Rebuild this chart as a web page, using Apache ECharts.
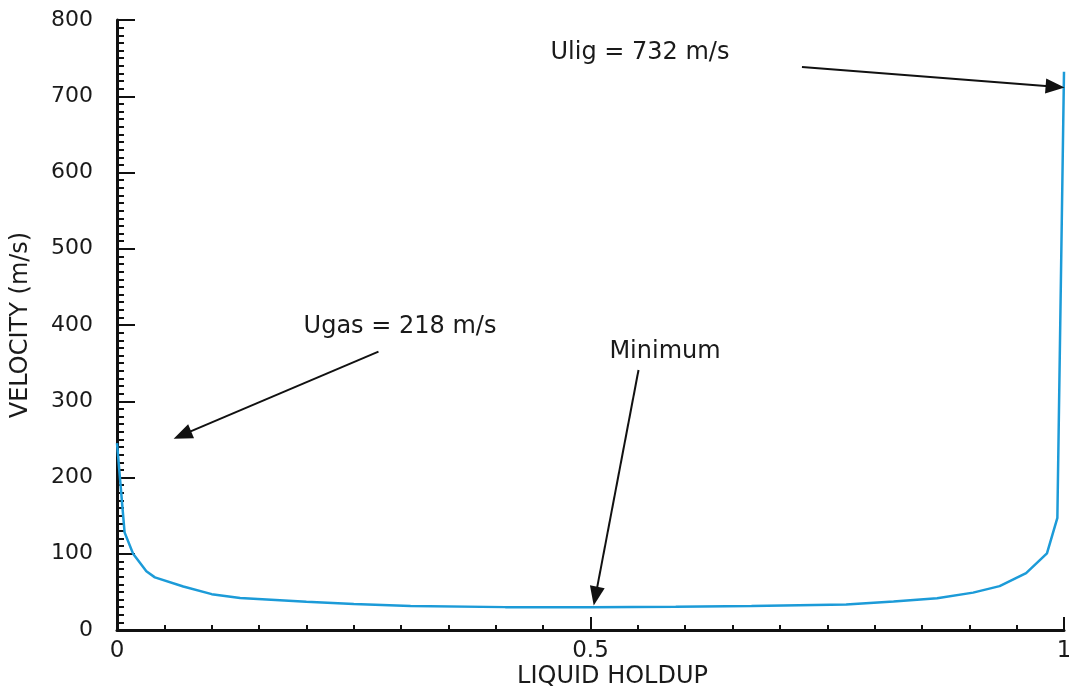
<!DOCTYPE html>
<html>
<head>
<meta charset="utf-8">
<script src="https://cdn.jsdelivr.net/npm/echarts@6/dist/echarts.min.js"></script>
<style>
html,body{margin:0;padding:0;background:#fff;}
#chart{width:1069px;height:686px;}
</style>
</head>
<body>
<div id="chart"></div>
<script>
// Curve samples
const holdup   = [0, 0.008, 0.017, 0.031, 0.04, 0.07, 0.1, 0.13, 0.2, 0.25, 0.31, 0.41, 0.5, 0.59, 0.67, 0.77, 0.82, 0.866, 0.904, 0.932, 0.96, 0.982, 0.993, 1.0];
const velocity = [245, 128, 100, 77, 69, 57, 47, 42, 37, 34, 31.5, 30, 29.7, 30.5, 31.5, 33.5, 37.5, 41.5, 49, 57.5, 74.5, 100.5, 147, 732];

// Annotation texts and arrow endpoints (data coordinates: [holdup, velocity])
const noteTexts  = ['Ulig = 732 m/s', 'Ugas = 218 m/s', 'Minimum'];
const arrowStart = [[0.7233, 738.4], [0.2761, 365], [0.5507, 341]];
const arrowEnd   = [[0.9906, 712.5], [0.069, 255.8], [0.5053, 44.5]];

const xTitle = 'LIQUID HOLDUP';
const yTitle = 'VELOCITY (m/s)';

const FONT = 'DejaVu Sans';
const chart = echarts.init(document.getElementById('chart'));
const seriesData = holdup.map((h, i) => [h, velocity[i]]);

chart.setOption({
  animation: false,
  backgroundColor: '#fff',
  grid: { left: 117, right: 5, top: 20, bottom: 56, containLabel: false, outerBoundsMode: 'none' },
  xAxis: {
    type: 'value', min: 0, max: 1, interval: 0.5,
    name: xTitle, nameLocation: 'middle', nameGap: 35, nameMoveOverlap: false,
    nameTextStyle: { fontFamily: FONT, fontSize: 24, color: '#1a1a1a', padding: [0, 0, 0, 44] },
    axisLine: { show: true, onZero: false, lineStyle: { color: '#111', width: 3 } },
    axisTick: { show: true, inside: true, length: 13, lineStyle: { color: '#111', width: 2 } },
    minorTick: { show: true, splitNumber: 10, length: 5, lineStyle: { color: '#111', width: 2 } },
    axisLabel: { fontFamily: FONT, fontSize: 23, color: '#1a1a1a', margin: 10 },
    splitLine: { show: false }, minorSplitLine: { show: false }
  },
  yAxis: {
    type: 'value', min: 0, max: 800, interval: 100,
    name: yTitle, nameLocation: 'middle', nameGap: 84, nameRotate: 90, nameMoveOverlap: false,
    nameTextStyle: { fontFamily: FONT, fontSize: 24, color: '#1a1a1a' },
    axisLine: { show: true, onZero: false, lineStyle: { color: '#111', width: 3 } },
    axisTick: { show: true, inside: true, length: 18, lineStyle: { color: '#111', width: 2 } },
    minorTick: { show: true, splitNumber: 10, length: 7, lineStyle: { color: '#111', width: 2 } },
    axisLabel: { fontFamily: FONT, fontSize: 22, color: '#1a1a1a', margin: 24 },
    splitLine: { show: false }, minorSplitLine: { show: false }
  },
  series: [{
    type: 'line',
    data: seriesData,
    showSymbol: false,
    smooth: false,
    lineStyle: { color: '#1c9bd8', width: 2.5 },
    itemStyle: { color: '#1c9bd8' },
    silent: true,
    markLine: {
      silent: true,
      animation: false,
      symbol: ['none', 'triangle'],
      symbolSize: [15, 19],
      label: { show: false },
      emphasis: { disabled: true },
      lineStyle: { color: '#111', width: 2, type: 'solid' },
      data: arrowStart.map((s, i) => [{ coord: s }, { coord: arrowEnd[i] }])
    }
  }],
  graphic: [
    { type: 'text', x: 640, y: 53, style: { text: noteTexts[0], fontFamily: FONT, fontSize: 24, fill: '#1a1a1a', align: 'center', verticalAlign: 'middle' } },
    { type: 'text', x: 400, y: 327, style: { text: noteTexts[1], fontFamily: FONT, fontSize: 24, fill: '#1a1a1a', align: 'center', verticalAlign: 'middle' } },
    { type: 'text', x: 665, y: 352, style: { text: noteTexts[2], fontFamily: FONT, fontSize: 24, fill: '#1a1a1a', align: 'center', verticalAlign: 'middle' } }
  ]
});
</script>
</body>
</html>
